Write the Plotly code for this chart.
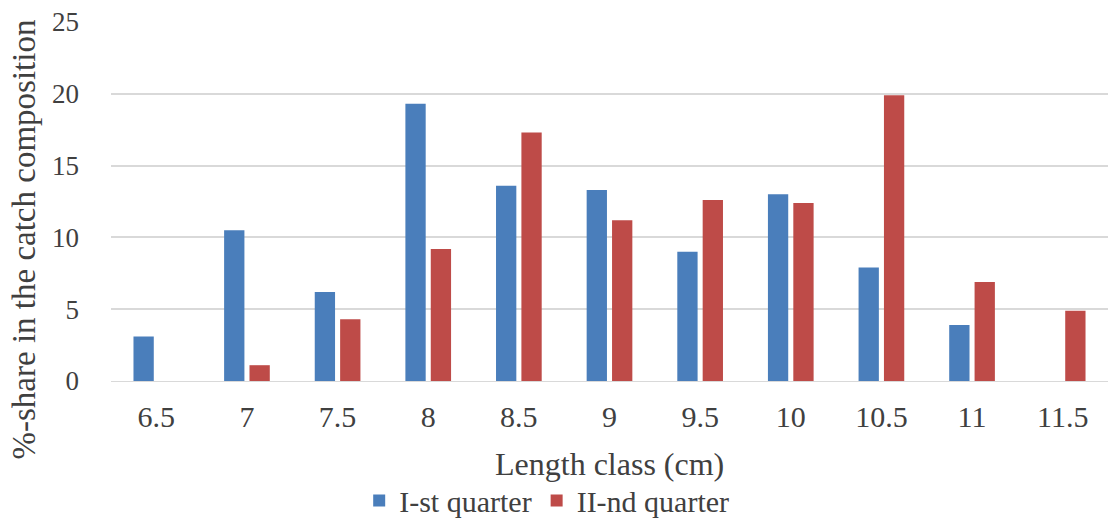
import plotly.graph_objects as go

# Length classes (cm) and percentage share per quarter
length_classes = ["6.5", "7", "7.5", "8", "8.5", "9", "9.5", "10", "10.5", "11", "11.5"]
q1_share = [3.1, 10.5, 6.2, 19.3, 13.6, 13.3, 9.0, 13.0, 7.9, 3.9, None]
q2_share = [None, 1.1, 4.3, 9.2, 17.3, 11.2, 12.6, 12.4, 19.9, 6.9, 4.9]
y_ticks = [0, 5, 10, 15, 20, 25]

FONT = "Times New Roman"
TEXT = "#404040"

fig = go.Figure()
fig.add_trace(go.Bar(x=length_classes, y=q1_share, name="I-st quarter",
                     marker=dict(color="#4A7EBB", line=dict(width=0))))
fig.add_trace(go.Bar(x=length_classes, y=q2_share, name="II-nd quarter",
                     marker=dict(color="#BE4B48", line=dict(width=0))))

fig.update_layout(
    width=1108, height=519,
    margin=dict(l=111, r=0, t=22, b=138, autoexpand=False),
    paper_bgcolor="white", plot_bgcolor="white",
    barmode="group", bargap=0.44, bargroupgap=0.2,
    font=dict(family=FONT, size=26, color=TEXT),
    showlegend=True,
    legend=dict(orientation="h", x=0.437, xanchor="center", y=-0.333, yanchor="middle",
                font=dict(family=FONT, size=30, color=TEXT), itemwidth=30,
                traceorder="normal", itemsizing="constant", valign="middle",
                bgcolor="rgba(0,0,0,0)"),
    xaxis=dict(type="category", showgrid=False, showline=True, linecolor="#D9D9D9",
               linewidth=1, ticks="", tickfont=dict(family=FONT, size=30, color=TEXT),
               ticklabelstandoff=9),
    yaxis=dict(range=[0, 25], tickvals=y_ticks, showgrid=True, gridcolor="#D9D9D9",
               gridwidth=1.5, zeroline=False, showline=False, ticks="",
               tickfont=dict(family=FONT, size=27, color=TEXT), ticklabelstandoff=31),
    annotations=[
        dict(text="Length class (cm)", xref="paper", yref="paper", x=0.5, y=-0.175,
             xanchor="center", yanchor="top", showarrow=False,
             font=dict(size=32, color=TEXT, family=FONT)),
        dict(text="%-share in the catch composition", xref="paper", yref="paper",
             x=-0.087, y=0.395, xanchor="center", yanchor="middle", textangle=-90,
             showarrow=False, font=dict(size=33, color=TEXT, family=FONT)),
    ],
)

fig.write_html("out.html")
